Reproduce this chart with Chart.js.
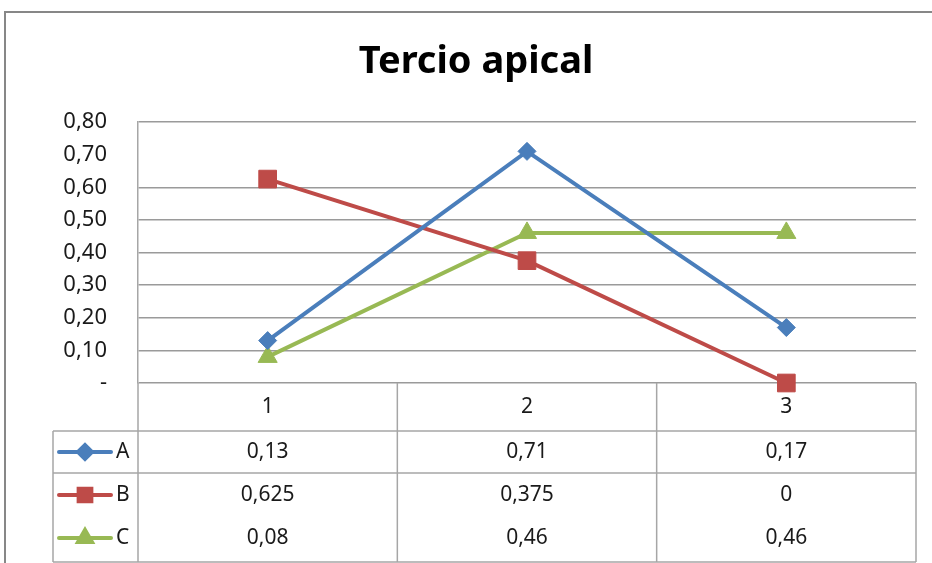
<!DOCTYPE html>
<html>
<head>
<meta charset="utf-8">
<title>Tercio apical</title>
<script src="https://cdn.jsdelivr.net/npm/chart.js@4.4.1/dist/chart.umd.min.js"></script>
<style>
  html, body { margin: 0; padding: 0; background: #fff; }
  #wrap { width: 932px; height: 563px; }
</style>
</head>
<body>
<div id="wrap"><canvas id="apicalChart" width="932" height="563"></canvas></div>
<script>
// Categories and series values
const categories = ['1', '2', '3'];
const seriesA = [0.13, 0.71, 0.17];
const seriesB = [0.625, 0.375, 0];
const seriesC = [0.08, 0.46, 0.46];
const yTicks = [0, 0.1, 0.2, 0.3, 0.4, 0.5, 0.6, 0.7, 0.8];
const chartTitle = 'Tercio apical';

const FONT = "'Noto Sans', 'Open Sans', sans-serif";
const BLUE = '#4a7ebb';
const RED = '#be4b48';
const GREEN = '#98b954';

// decimal comma, like the spreadsheet it came from
function fmt(v) {
    return String(v).replace('.', ',');
}

function tickLabel(v) {
    if (Math.abs(v) < 1e-9) return '-';
    return v.toFixed(2).replace('.', ',');
}

/**
 * Outer frame of the chart object + title
 * (title centred on the whole frame, which runs past the right edge)
 */
const framePlugin = {
    id: 'frame',
    beforeDraw(chart) {
        const ctx = chart.ctx;
        ctx.save();
        ctx.fillStyle = '#fff';
        ctx.fillRect(0, 0, chart.width, chart.height);
        ctx.strokeStyle = '#878787';
        ctx.lineWidth = 2;
        ctx.beginPath();
        ctx.moveTo(5, chart.height);
        ctx.lineTo(5, 12);
        ctx.lineTo(chart.width, 12);
        ctx.stroke();

        ctx.fillStyle = '#000';
        ctx.font = 'bold 38px ' + FONT;
        ctx.textAlign = 'center';
        ctx.textBaseline = 'middle';
        ctx.fillText(chartTitle, 476, 62);
        ctx.restore();
    }
};

/**
 * Data table under the plot (category row + one row per series)
 */
const tablePlugin = {
    id: 'dataTable',
    beforeDatasetsDraw(chart) {
        const { ctx, chartArea } = chart;
        const x = chart.scales.x;
        const datasets = chart.data.datasets;

        const top = chartArea.bottom;
        const headBottom = top + 48;
        const rowA = headBottom + 42;
        const bottom = chart.height - 1;
        const legendLeft = 53;

        const centers = categories.map((c, i) => x.getPixelForValue(i));
        const edges = [chartArea.left];
        for (let i = 0; i < centers.length - 1; i++) {
            edges.push((centers[i] + centers[i + 1]) / 2);
        }
        edges.push(chartArea.right);

        ctx.save();
        ctx.strokeStyle = '#a6a6a6';
        ctx.lineWidth = 1.5;
        ctx.beginPath();
        // horizontal rules
        [headBottom, rowA, bottom].forEach(y => {
            ctx.moveTo(legendLeft, y);
            ctx.lineTo(chartArea.right, y);
        });
        // vertical rules
        edges.forEach(ex => {
            ctx.moveTo(ex, top);
            ctx.lineTo(ex, bottom);
        });
        ctx.moveTo(legendLeft, headBottom);
        ctx.lineTo(legendLeft, bottom);
        ctx.stroke();

        // category labels
        ctx.fillStyle = '#1a1a1a';
        ctx.font = '21px ' + FONT;
        ctx.textAlign = 'center';
        ctx.textBaseline = 'middle';
        categories.forEach((c, i) => ctx.fillText(c, centers[i], top + 24));

        // series rows
        const rowY = [headBottom + 21, rowA + 22, rowA + 65];
        datasets.forEach((ds, r) => {
            const y = rowY[r];
            ds.data.forEach((v, i) => {
                ctx.fillStyle = '#1a1a1a';
                ctx.textAlign = 'center';
                ctx.fillText(fmt(v), centers[i], y);
            });

            // legend key
            ctx.strokeStyle = ds.borderColor;
            ctx.lineWidth = 4;
            ctx.lineCap = 'round';
            ctx.beginPath();
            ctx.moveTo(59, y);
            ctx.lineTo(111, y);
            ctx.stroke();
            ctx.fillStyle = ds.borderColor;
            Chart.helpers.drawPoint(ctx, {
                pointStyle: ds.pointStyle,
                radius: ds.legendRadius,
                rotation: 0,
                borderWidth: 1
            }, 85, y);
            ctx.fill();

            ctx.fillStyle = '#1a1a1a';
            ctx.textAlign = 'left';
            ctx.fillText(ds.label, 116, y);
        });
        ctx.restore();
    }
};

function makeSeries(label, data, color, style, radius, legendRadius) {
    return {
        label: label,
        data: data,
        borderColor: color,
        backgroundColor: color,
        borderWidth: 4,
        pointStyle: style,
        pointRadius: radius,
        pointHoverRadius: radius,
        pointBorderWidth: 1,
        legendRadius: legendRadius,
        clip: false,
        tension: 0
    };
}

const chart = new Chart(document.getElementById('apicalChart'), {
    type: 'line',
    data: {
        labels: categories,
        datasets: [
            makeSeries('A', seriesA, BLUE, 'rectRot', 9, 7),
            makeSeries('B', seriesB, RED, 'rect', 12.5, 9),
            makeSeries('C', seriesC, GREEN, 'triangle', 11, 8)
        ]
    },
    options: {
        responsive: false,
        animation: false,
        layout: {
            padding: { left: 0, right: 16, top: 122, bottom: 180 }
        },
        plugins: {
            legend: { display: false },
            tooltip: { enabled: false },
            title: { display: false }
        },
        scales: {
            x: {
                display: false,
                offset: true
            },
            y: {
                min: 0,
                max: 0.8,
                afterBuildTicks(scale) {
                    scale.ticks = yTicks.map(v => ({ value: v }));
                },
                afterFit(scale) {
                    scale.width = 138;
                },
                ticks: {
                    callback: tickLabel,
                    color: '#1a1a1a',
                    padding: 31,
                    font: { family: FONT, size: 22 }
                },
                grid: {
                    drawTicks: false,
                    lineWidth: 1.5,
                    color(ctx) {
                        if (ctx.tick && Math.abs(ctx.tick.value - 0.7) < 1e-6) return 'rgba(0,0,0,0)';
                        return '#9a9a9a';
                    }
                },
                border: { display: true, color: '#a6a6a6', width: 1.5 }
            }
        }
    },
    plugins: [framePlugin, tablePlugin]
});
</script>
</body>
</html>
